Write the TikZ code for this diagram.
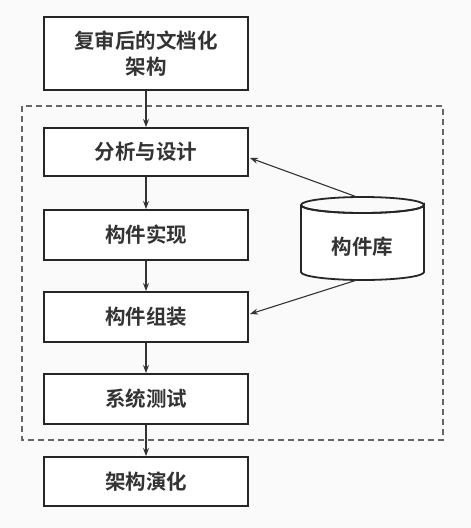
\documentclass[tikz,border=0pt]{standalone}
\usepackage{fontspec}
\newfontfamily\cjk{Noto Sans CJK SC}[BoldFont={Noto Sans CJK SC Bold}]
\usetikzlibrary{arrows.meta,calc}
\begin{document}
\begin{tikzpicture}[x=1pt,y=-1pt,
  box/.style={draw=black!85,line width=2pt,fill=white,minimum width=204pt,inner sep=0pt,
    font=\cjk\bfseries\fontsize{20.5}{26}\selectfont,text=black!80,align=center},
  flow/.style={draw=black!80,line width=1.1pt,-{Stealth[length=8pt,width=6pt]}}]
\useasboundingbox[fill=black!2] (0,0) rectangle (471,528);
\draw[black!60,line width=1.1pt,dash pattern=on 6pt off 4pt] (22,106) rectangle (443,440);
\node[box,minimum height=73pt] (b1) at (146,53.5) {复审后的文档化\\架构};
\node[box,minimum height=48pt] (b2) at (146,152) {分析与设计};
\node[box,minimum height=50pt] (b3) at (146,235) {构件实现};
\node[box,minimum height=50pt] (b4) at (146,317) {构件组装};
\node[box,minimum height=50pt] (b5) at (146,399) {系统测试};
\node[box,minimum height=49pt] (b6) at (146,481.5) {架构演化};
% cylinder
\draw[black!85,line width=1.8pt,fill=white] (301,205) -- (301,272) arc[start angle=180,end angle=0,x radius=61.5,y radius=8] -- (424,205) arc[start angle=0,end angle=180,x radius=61.5,y radius=8];
\draw[black!85,line width=1.8pt] (362.5,205) ellipse[x radius=61.5,y radius=8];
\node[font=\cjk\bfseries\fontsize{20.5}{26}\selectfont,text=black!80] (lib) at (362.5,247) {构件库};
\coordinate (libtop) at (357,197);
\coordinate (libbot) at (357,280);
\draw[flow] (b1) -- (b2);
\draw[flow] (b2) -- (b3);
\draw[flow] (b3) -- (b4);
\draw[flow] (b4) -- (b5);
\draw[flow] (b5) -- (b6);
\draw[flow] (libtop) -- ($(b2.east)+(1,6)$);
\draw[flow] (libbot) -- ($(b4.east)+(1,-3)$);
\end{tikzpicture}
\end{document}
